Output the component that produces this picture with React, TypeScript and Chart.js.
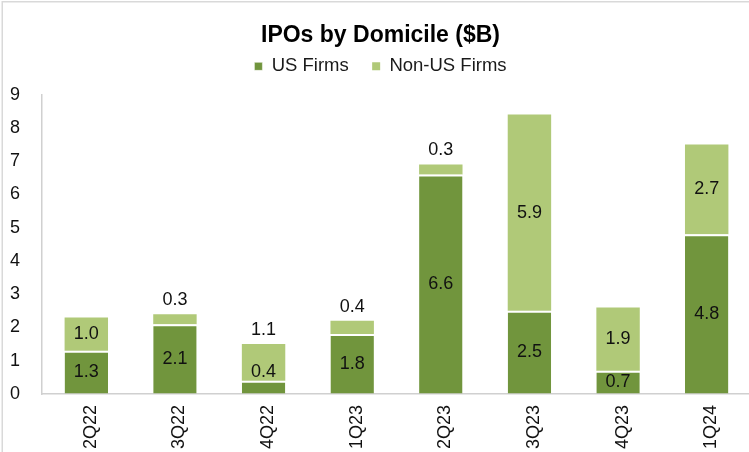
import { useEffect, useRef } from "react";
import { Chart, registerables } from "chart.js";

Chart.register(...registerables);

const quarters = ["2Q22", "3Q22", "4Q22", "1Q23", "2Q23", "3Q23", "4Q23", "1Q24"];
const usFirms = [1.3, 2.1, 0.4, 1.8, 6.6, 2.5, 0.7, 4.8];
const nonUsFirms = [1.0, 0.3, 1.1, 0.4, 0.3, 5.9, 1.9, 2.7];
const seriesNames = ["US Firms", "Non-US Firms"];
const chartTitle = "IPOs by Domicile ($B)";
const yMin = 0;
const yMax = 9;
const yStep = 1;

const DARK = "#71953d";
const LIGHT = "#b0c978";
const FONT = "'Liberation Sans', Arial, sans-serif";

const W = 770;
const H = 452;

const framePlugin = {
  id: "frame",
  beforeDraw(chart: any) {
    const ctx = chart.ctx;
    ctx.save();
    ctx.fillStyle = "#ffffff";
    ctx.fillRect(0, 0, chart.width, chart.height);
    ctx.strokeStyle = "#d9d9d9";
    ctx.lineWidth = 1.5;
    ctx.beginPath();
    ctx.moveTo(2.25, chart.height);
    ctx.lineTo(2.25, 1.75);
    ctx.lineTo(chart.width, 1.75);
    ctx.stroke();
    ctx.restore();
  },
};

const labelPlugin = {
  id: "segLabels",
  afterDatasetsDraw(chart: any) {
    const ctx = chart.ctx;
    const us = chart.getDatasetMeta(0).data;
    const non = chart.getDatasetMeta(1).data;
    ctx.save();
    ctx.font = `18px ${FONT}`;
    ctx.textAlign = "center";
    ctx.textBaseline = "middle";
    ctx.fillStyle = "#111111";
    us.forEach((bar: any, i: number) => {
      const p = bar.getProps(["x", "y", "base"], true);
      const h = p.base - p.y;
      let lifted = false;
      let y = (p.y + p.base) / 2;
      if (h < 18) {
        y = p.y - 9;
        lifted = true;
      }
      ctx.fillText(usFirms[i].toFixed(1), p.x, y);
      const q = non[i].getProps(["x", "y", "base"], true);
      const hn = q.base - q.y;
      let yn = (q.y + q.base) / 2;
      if (hn < 20 || lifted) yn = q.y - 14;
      ctx.fillText(nonUsFirms[i].toFixed(1), q.x, yn);
    });
    ctx.restore();
  },
};

export default function App() {
  const ref = useRef<HTMLCanvasElement | null>(null);

  useEffect(() => {
    document.body.style.margin = "0";
    document.body.style.overflow = "hidden";
    document.documentElement.style.overflow = "hidden";
    const canvas = ref.current;
    if (!canvas) return;
    const chart = new Chart(canvas, {
      type: "bar",
      data: {
        labels: quarters,
        datasets: [
          {
            label: seriesNames[0] + "   ",
            data: usFirms,
            backgroundColor: DARK,
            borderColor: "#ffffff",
            borderWidth: { top: 2, left: 0, right: 0, bottom: 0 },
            borderSkipped: false,
            barPercentage: 0.49,
            categoryPercentage: 1,
          },
          {
            label: seriesNames[1],
            data: nonUsFirms,
            backgroundColor: LIGHT,
            borderWidth: 0,
            barPercentage: 0.49,
            categoryPercentage: 1,
          },
        ],
      },
      options: {
        responsive: false,
        animation: false,
        layout: { padding: { left: 10, right: W - 751, top: 0, bottom: 3 } },
        plugins: {
          title: {
            display: true,
            text: chartTitle,
            color: "#000000",
            font: { family: FONT, size: 23, weight: "bold" },
            padding: { top: 21.5, bottom: 0 },
            weight: 2000,
          },
          legend: {
            display: true,
            position: "top",
            weight: 1000,
            labels: {
              color: "#1a1a1a",
              font: { family: FONT, size: 18.5 },
              boxWidth: 8,
              boxHeight: 8,
              padding: 8,
            },
          },
          subtitle: {
            display: true,
            text: "",
            font: { size: 9, lineHeight: 1 },
            padding: 0,
            weight: 500,
          },
          tooltip: { enabled: false },
        },
        scales: {
          x: {
            stacked: true,
            afterFit: (scale: any) => {
              scale.height = 55;
            },
            grid: { display: true, drawOnChartArea: false, drawTicks: false },
            border: { display: true, color: "#d0d0d0", width: 1.5 },
            ticks: {
              color: "#111111",
              font: { family: FONT, size: 18 },
              minRotation: 90,
              maxRotation: 90,
              autoSkip: false,
              padding: 11,
              labelOffset: 4.5,
            },
          },
          y: {
            stacked: true,
            min: yMin,
            max: yMax,
            afterFit: (scale: any) => {
              scale.width = 32;
            },
            grid: { display: true, drawOnChartArea: false, drawTicks: false },
            border: { display: true, color: "#d0d0d0", width: 1.5 },
            ticks: {
              stepSize: yStep,
              color: "#111111",
              font: { family: FONT, size: 18 },
              padding: 22,
            },
          },
        },
      },
      plugins: [framePlugin, labelPlugin],
    });
    return () => chart.destroy();
  }, []);

  return (
    <div style={{ width: 749, height: 452, overflow: "hidden", position: "relative" }}>
      <canvas ref={ref} width={W} height={H} style={{ width: W, height: H, display: "block" }} />
    </div>
  );
}
